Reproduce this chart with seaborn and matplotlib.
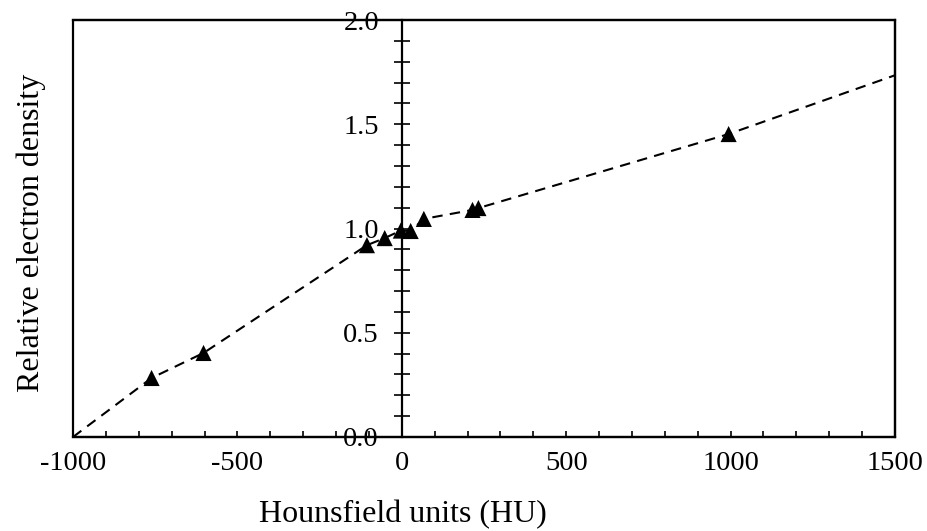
import matplotlib
matplotlib.use("Agg")
import matplotlib.pyplot as plt
import seaborn as sns
from matplotlib.ticker import MultipleLocator

# measured calibration points (CT number vs relative electron density)
hu = [-761, -603, -106, -52, -3, 27, 67, 215, 233, 994]
red = [0.283, 0.403, 0.920, 0.954, 0.990, 0.988, 1.046, 1.089, 1.098, 1.453]

# calibration curve: air endpoint, measured points, extrapolated endpoint
curve_hu = [-1000] + hu + [1500]
curve_red = [0.0] + red + [1.735]

sns.set_style("ticks")
plt.rcParams['font.family'] = ['Liberation Serif', 'DejaVu Serif']
plt.rcParams['axes.unicode_minus'] = False
plt.rcParams['text.color'] = 'black'
plt.rcParams['axes.labelcolor'] = 'black'

fig = plt.figure(figsize=(9.28, 5.31), dpi=100)
ax = fig.add_axes([73 / 928, 94 / 531, 822 / 928, 417 / 531])

sns.lineplot(x=curve_hu, y=curve_red, ax=ax, color='black', linestyle=(0, (5, 3.5)),
             linewidth=1.5, sort=False, zorder=2)
sns.scatterplot(x=hu, y=red, ax=ax, marker='^', s=135, color='black',
                edgecolor='none', zorder=3)

ax.set_xlim(-1000, 1500)
ax.set_ylim(0, 2.0)

# y axis crossing at HU = 0, frame drawn by the axes patch
ax.spines['left'].set_position(('data', 0))
ax.spines['left'].set_zorder(1)
for s in ['left', 'top', 'right', 'bottom']:
    ax.spines[s].set_linewidth(1.6)
    ax.spines[s].set_color('black')
ax.patch.set_edgecolor('black')
ax.patch.set_linewidth(1.6)

ax.xaxis.set_major_locator(MultipleLocator(500))
ax.xaxis.set_minor_locator(MultipleLocator(100))
ax.yaxis.set_major_locator(MultipleLocator(0.5))
ax.yaxis.set_minor_locator(MultipleLocator(0.1))
ax.yaxis.set_major_formatter(plt.FormatStrFormatter('%.1f'))

ax.tick_params(axis='x', which='both', direction='in', length=4.5, width=1.2,
               labelsize=20.5, pad=10, colors='black')
ax.tick_params(axis='y', which='both', direction='inout', length=11, width=1.2,
               labelsize=20.5, pad=11, colors='black')

ax.set_xlabel("Hounsfield units (HU)", fontsize=23, color='black')
ax.set_ylabel("Relative electron density", fontsize=23, color='black')
ax.xaxis.set_label_coords((403 - 73) / 822, -0.15)
ax.yaxis.set_label_coords(-0.033, 0.49)

fig.savefig("out.png", dpi=100)
